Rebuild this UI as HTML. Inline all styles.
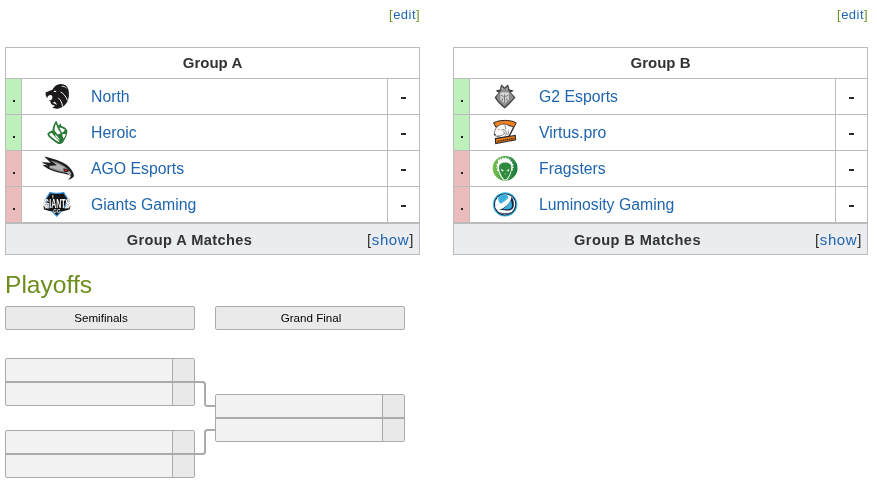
<!DOCTYPE html>
<html><head><meta charset="utf-8">
<style>
*{box-sizing:border-box;margin:0;padding:0}
html,body{width:877px;height:485px;overflow:hidden;background:#fff}
body{position:relative;font-family:"Liberation Sans",sans-serif;color:#222}
.abs{position:absolute}
.edit{position:absolute;top:7px;font-size:13px;letter-spacing:0.5px;line-height:16px;color:#1e64ae;white-space:nowrap}
.edit b{font-weight:normal;color:#6c8c1c}
.gt{position:absolute;top:47px;width:415px;height:208px;border:1px solid #bbb;background:#fff}
.gt .hd{position:absolute;left:0;top:0;width:413px;height:30px;text-align:center;font-weight:bold;font-size:15px;line-height:30px;color:#333}
.gt .hl{position:absolute;left:0;width:413px;height:1px;background:#bbb}
.gt .st{position:absolute;left:0;width:15px;height:35px}
.gt .up{background:#bef0bb}
.gt .dn{background:#ecbcbc}
.gt .vl{position:absolute;width:1px;background:#bbb}
.gt .dot{position:absolute;left:7px;width:2px;height:2px;background:#222}
.gt .nm{position:absolute;left:85px;font-size:15.8px;line-height:20px;color:#1e64ae;white-space:nowrap}
.gt .sc{position:absolute;left:395px;width:5px;height:2px;background:#2a2a2a}
.gt .ft{position:absolute;left:0;top:176px;width:413px;height:30px;background:#eaecf0}
.gt .ftt{position:absolute;left:0;top:1px;width:367px;text-align:center;font-weight:bold;font-size:14.6px;letter-spacing:0.4px;line-height:30px;color:#333}
.gt .show{position:absolute;right:5px;top:1px;font-size:15px;letter-spacing:0.6px;line-height:30px;color:#333}
.gt .show i{font-style:normal;color:#1e64ae}
.logo{position:absolute;width:26px;height:26px}
h2{position:absolute;left:5px;top:270px;font-weight:normal;font-size:24.6px;line-height:30px;color:#6c8c1c}
.rh{position:absolute;top:306px;width:190px;height:24px;border:1px solid #aaa;border-radius:2px;background:#eaeaea;text-align:center;font-size:11.6px;line-height:22px;color:#000;padding-left:2px}
.mt{position:absolute;width:190px;height:48px;border:1px solid #aaa;border-radius:2px;background:#f2f2f2;overflow:hidden}
.mt .s{position:absolute;right:0;top:0;width:22px;height:46px;background:#e9e9e9;border-left:1px solid #aaa}
.mt .m{position:absolute;left:0;top:22px;width:188px;height:2px;background:#aaa}
</style></head><body><div id="wrap" style="position:absolute;left:0;top:0;width:877px;height:485px;will-change:transform">

<div class="edit" style="left:389px"><b>[</b>edit<b>]</b></div>
<div class="edit" style="left:837px"><b>[</b>edit<b>]</b></div>

<!-- Group A -->
<div class="gt" style="left:5px">
  <div class="hd">Group A</div>
  <div class="hl" style="top:30px"></div>
  <div class="st up" style="top:31px"></div>
  <div class="st up" style="top:67px"></div>
  <div class="st dn" style="top:103px"></div>
  <div class="st dn" style="top:139px"></div>
  <div class="hl" style="top:66px"></div>
  <div class="hl" style="top:102px"></div>
  <div class="hl" style="top:138px"></div>
  <div class="hl" style="top:174px;height:2px"></div>
  <div class="vl" style="left:15px;top:31px;height:144px"></div>
  <div class="vl" style="left:381px;top:31px;height:144px"></div>
  <div class="dot" style="top:52px"></div>
  <div class="dot" style="top:88px"></div>
  <div class="dot" style="top:124px"></div>
  <div class="dot" style="top:160px"></div>
  <div class="nm" style="top:39px">North</div>
  <div class="nm" style="top:75px">Heroic</div>
  <div class="nm" style="top:111px">AGO Esports</div>
  <div class="nm" style="top:147px">Giants Gaming</div>
  <div class="sc" style="top:49px"></div>
  <div class="sc" style="top:85px"></div>
  <div class="sc" style="top:121px"></div>
  <div class="sc" style="top:157px"></div>
  <div class="ft"><div class="ftt">Group A Matches</div><div class="show">[<i>show</i>]</div></div>
</div>

<!-- Group B -->
<div class="gt" style="left:453px">
  <div class="hd">Group B</div>
  <div class="hl" style="top:30px"></div>
  <div class="st up" style="top:31px"></div>
  <div class="st up" style="top:67px"></div>
  <div class="st dn" style="top:103px"></div>
  <div class="st dn" style="top:139px"></div>
  <div class="hl" style="top:66px"></div>
  <div class="hl" style="top:102px"></div>
  <div class="hl" style="top:138px"></div>
  <div class="hl" style="top:174px;height:2px"></div>
  <div class="vl" style="left:15px;top:31px;height:144px"></div>
  <div class="vl" style="left:381px;top:31px;height:144px"></div>
  <div class="dot" style="top:52px"></div>
  <div class="dot" style="top:88px"></div>
  <div class="dot" style="top:124px"></div>
  <div class="dot" style="top:160px"></div>
  <div class="nm" style="top:39px">G2 Esports</div>
  <div class="nm" style="top:75px">Virtus.pro</div>
  <div class="nm" style="top:111px">Fragsters</div>
  <div class="nm" style="top:147px">Luminosity Gaming</div>
  <div class="sc" style="top:49px"></div>
  <div class="sc" style="top:85px"></div>
  <div class="sc" style="top:121px"></div>
  <div class="sc" style="top:157px"></div>
  <div class="ft"><div class="ftt">Group B Matches</div><div class="show">[<i>show</i>]</div></div>
</div>

<svg class="abs" style="left:0;top:0;will-change:transform" width="877" height="485" viewBox="0 0 877 485">
  <!-- North -->
  <path fill="#1c1a1b" d="M54.6,86.8 C56.2,85 58.4,84 60.8,84 C63.4,84 65.6,85 67,86.8 C68.6,88.8 69,91.8 68.9,95 C68.8,98.4 67.8,101.6 65.8,104 C63.8,106.4 60.8,108.2 57.8,108.7 C55.6,109 53.6,108.6 52.2,107.6 C53.4,107.2 54.4,106.4 54.8,105.4 C53.2,105.4 51.8,104.6 51,103.4 C50.6,102.6 50.4,101.8 50.2,101 C49.4,100.8 48.8,100.6 48.4,100.4 C49.2,100.2 50.2,100.2 51,100.2 C51.8,99.4 52.4,98.4 52.4,97.2 C52.4,95.8 51.6,95 50.4,95 C49.2,95.2 48.2,95.8 47.6,96.6 L47.4,98.2 C46.8,97.6 46.4,96.8 46,96 C45.6,94.8 45.6,93.6 45.6,92.4 C46.4,92 47.2,91.6 48,91.4 C49.6,90.6 51,90.2 52.4,89.8 C53.2,88.6 53.8,87.6 54.6,86.8 Z"/>
  <path fill="#fff" d="M53.4,101.8 C55.4,101.8 56.8,103.2 56.6,105 C56,104 55,103.4 53.6,103.4 Z"/>
  <ellipse cx="55" cy="91.4" rx="1.3" ry="0.7" fill="#fff"/>
  <path fill="none" stroke="#fff" stroke-width="1" d="M60.6,92 C63.4,93.4 65.8,96 67.4,100.2"/>
  <path fill="none" stroke="#fff" stroke-width="1" d="M58.2,97.8 C60.6,99.8 62,102.6 62.6,106.4"/>
  <path fill="none" stroke="#fff" stroke-width="0.8" d="M61.6,86.2 C63.4,86.2 65.2,86.8 66.6,88.2"/>

  <!-- Heroic -->
  <path fill="#2b7a37" d="M56.1,120.4 C57.2,122.4 58,124 58.4,125.4 C59.4,124.8 60.2,124 60.8,123.2 C61.2,124 61.2,125 61,125.8 C63.6,126.4 65.8,128 67.2,130.2 C67.6,131.4 67.4,132.6 67,133.4 C66.6,135.6 65.6,137.8 64.6,139.6 C64,141 63.2,142.6 61.8,143.6 C60.4,144.4 58.4,144.2 57,143.2 C54,141.6 51,139 49,137 C48,136 47.4,134.6 47.4,133.4 C48.6,132.2 50.4,131.4 52.4,130.6 C52.6,127.4 53.8,123.4 56.1,120.4 Z"/>
  <path fill="#fff" d="M55.9,123.4 C56.6,125.6 57.4,127.6 58.4,129.4 C59.6,131 60.4,132.2 60.6,133.4 C59.4,133.6 58.4,134 57.8,134.6 C56.6,133.4 55.4,132 54.4,130.6 C54.6,128 55,125.6 55.9,123.4 Z"/>
  <path fill="#fff" d="M59.4,127.4 C61.4,127.6 63.4,128.4 64.8,129.8 C64.2,131 63.4,132.2 62,132.8 C61,131.2 60,129.4 59.4,127.4 Z"/>
  <path fill="#fff" d="M49.2,134 C50.2,133.4 51.2,133 52,133 C53.8,135.6 56,138.2 58.8,140.6 C59,141.2 59.2,141.8 59.2,142.2 C57,141.2 54.4,139.6 52.4,137.8 C51,136.6 49.8,135.2 49.2,134 Z"/>
  <path fill="#fff" d="M62.2,134.2 C63.4,134 64.8,134 65.8,134.6 C65.2,136.2 64.4,137.6 63.4,138.8 C62.8,137.4 62.4,135.8 62.2,134.2 Z"/>
  <path fill="#fff" d="M55.4,134.2 C56.4,135.6 57.6,137 58.8,138.2 C59.2,139 59.6,139.6 59.8,140.2 C58.2,139.2 56.8,138 55.8,136.8 C55.4,136 55.2,135 55.4,134.2 Z"/>

  <!-- AGO -->
  <path fill="#1e1e1e" d="M44.2,156.6 C50,158 56,159.6 60.4,161.6 C65,163.4 68.8,166 71.2,169.4 C73.2,172 74.2,174.6 73.8,176.6 C72.6,178.2 70.6,179.4 68,179.8 C69.6,178.6 70.6,177.2 70.8,175.8 C68.4,174.8 66,174 63.6,173.6 C58.4,172.8 53,171.2 48.4,169 C46.4,168 44.2,166.4 42.4,164.8 C44.4,164.8 46.2,165 48,165.4 C46,164.4 43.8,163.4 41.8,162.4 C44.6,162.2 47.6,162.4 50.6,162.8 C48.4,160.8 46.2,158.6 44.2,156.6 Z"/>
  <path fill="#b4b4b4" d="M49.6,165.8 C53,165.6 56,165.4 56.8,165.2 C54.8,163.4 52.4,161.8 50.2,160.6 C55.4,161.8 60.6,163.8 64.6,166.4 C67.6,168.4 70,171.2 71.6,174.2 C69.6,174 67.4,173.2 64.8,172.6 C59.8,171.8 54,170.2 49.6,168 Z"/>
  <path fill="none" stroke="#6a6a6a" stroke-width="0.7" d="M52,161.4 C57,162.8 62,165 66.4,168 M51.4,168.2 C56,170 60.6,171.2 64.6,171.8"/>
  <path fill="#222" d="M63.4,168.6 C65.4,168 67.6,168.8 69.2,170.6 C68.6,172.2 66.8,172.6 64.6,172 C63.6,171.2 63.2,169.8 63.4,168.6 Z"/>
  <path fill="#e01818" d="M64.6,169.2 C65.8,169.2 66.8,170 67.4,171 C66.8,171.4 65.8,171.4 65,171 C64.6,170.6 64.4,169.8 64.6,169.2 Z"/>
  <path fill="#d8d8d8" d="M67,173.2 C68.6,173.4 70,174 71,174.8 L70.4,175.4 C69.2,174.8 68,174.2 67,173.2 Z"/>

  <!-- Giants -->
  <path fill="#141414" stroke="#3b8fd8" stroke-width="1.2" d="M50,192.6 C52.4,193.6 61.2,193.6 63.6,192.6 L67.8,199.2 L63.6,209.2 L56.8,216.2 L50,209.2 L45.8,199.2 Z"/>
  <path fill="#141414" d="M43.4,205.6 L47,208.6 L56.8,207.6 L66.6,208.6 L70.6,205.6 L69.6,209.6 L63,211.2 L56.8,210.6 L50.6,211.2 L44,209.6 Z"/>
  <path fill="#e6e6e6" d="M44.6,207 L46.6,208.2 L45.2,208.8 Z M69,207 L67,208.2 L68.4,208.8 Z"/>
  <text x="57" y="207.8" text-anchor="middle" font-family="Liberation Sans" font-weight="bold" font-size="12.6" fill="#fafafa" stroke="#111" stroke-width="0.6" paint-order="stroke" textLength="26.5" lengthAdjust="spacingAndGlyphs">GIANTS</text>
  <path fill="#fafafa" d="M52.4,195 L53.4,195 L53.2,198.4 L52.6,198.4 Z"/>
  <text x="56.9" y="212.6" text-anchor="middle" font-family="Liberation Sans" font-weight="bold" font-size="4.6" fill="#e0e0e0">GG</text>

  <!-- G2 -->
  <path fill="#3e3e3e" d="M501.2,84.4 C502.6,85.4 503.8,86.6 504.6,87.4 C505.4,86.6 506.6,85.4 508,84.4 C508.8,86 509.2,88 509.4,89.6 C510.8,89.9 512.2,90.1 513.6,90.4 C512.8,91.2 511.8,92 510.8,92.6 C512,94 513.8,95.6 515.4,97.4 C512.6,101.2 508.4,105 504.6,108.6 C500.8,105 496.6,101.2 494.6,97.4 C496.2,95.6 497.6,94 498.6,92.6 C497.6,92 496.6,91.2 495.8,90.4 C497.2,90.1 498.6,89.9 500,89.6 C500.2,88 500.6,86 501.2,84.4 Z"/>
  <path fill="#8c8c8c" d="M501.7,86.2 C502.7,87.2 503.7,88.2 504.6,89 C505.5,88.2 506.5,87.2 507.5,86.2 C507.9,87.8 508.1,89.2 508.3,90.6 C510,92.4 512,94.6 513.8,97.4 C511.2,100.6 508,103.8 504.6,106.8 C501.2,103.8 498,100.6 496.2,97.4 C497.8,94.6 499.4,92.4 500.9,90.6 C501.1,89.2 501.3,87.8 501.7,86.2 Z"/>
  <path fill="#b0b0b0" d="M502,87.4 L503.6,88.9 L501.4,89.8 Z M507.2,87.4 L505.6,88.9 L507.8,89.8 Z"/>
  <path fill="#d6d6d6" d="M500.4,92.8 C501.8,92.2 503.2,92 504.6,92.6 C506,92 507.4,92.2 508.8,92.8 L508.8,99.8 L504.6,103.4 L500.4,99.8 Z"/>
  <path fill="none" stroke="#505050" stroke-width="0.75" d="M501,95.2 L503.8,96.8 M508.2,95.2 L505.4,96.8 M504.6,94.4 L504.6,102.8 M502.3,98.2 L502.3,100.8 M506.9,98.2 L506.9,100.8"/>

  <!-- Virtus.pro -->
  <path fill="#f07f1f" stroke="#262626" stroke-width="1" d="M493.6,122.8 C497,121 501,120.4 504.9,120.4 C508.8,120.4 512.8,121 516.2,122.8 L513.9,127.4 C511,125.8 508,125 504.9,125 C501.8,125 498.8,125.8 496,127.4 Z"/>
  <path fill="#fbfbfb" stroke="#2a2a2a" stroke-width="0.6" d="M494.2,134.8 C494.2,132.2 495,129.4 496.6,127.2 C498.4,125.4 500.8,124.2 503.4,124 C505.6,123.9 507.6,124.8 509,125.8 C510.6,126.2 512,126.6 513.4,127.2 L509.8,135.2 C507.8,136.8 505,137.6 502.2,137.6 C499.6,137.4 497.2,136.6 495.4,135.8 Z"/>
  <path fill="none" stroke="#262626" stroke-width="1.1" d="M513.9,127.2 L509.2,136"/>
  <path fill="none" stroke="#3a3a3a" stroke-width="0.6" d="M503.6,124.4 C505.4,125.8 506,127.6 505.6,129.4 M501.4,129.8 C503.6,129.2 505.6,130.2 506.2,132 C506.6,133.6 506,135.2 504.8,136 M503,131.6 C504.2,131.8 504.8,132.8 504.4,134.2 M497,136 C500,136.2 502.6,135.4 504.2,133.6 M508.2,130.4 C508.6,132 508.4,133.6 507.6,135"/>
  <circle cx="499" cy="129.6" r="0.7" fill="#e0401e"/>
  <path fill="#2a2a2a" d="M494.2,133.6 L495.8,134.2 L495.4,135.8 L494.2,135.2 Z"/>
  <path fill="#f07f1f" stroke="#262626" stroke-width="1.1" d="M495.4,138.6 L515.2,135.4 L515.6,139.9 L495.7,143.5 Z"/>
  <path fill="none" stroke="#4a2509" stroke-width="1.2" stroke-dasharray="1.4 0.5" d="M497.4,141.3 L513.6,138.4"/>

  <!-- Fragsters -->
  <defs>
    <linearGradient id="fg" x1="0" y1="0" x2="1" y2="0">
      <stop offset="0" stop-color="#74c14b"/>
      <stop offset="1" stop-color="#177a3c"/>
    </linearGradient>
    <linearGradient id="fg2" x1="0" y1="0" x2="1" y2="0">
      <stop offset="0" stop-color="#5aaf47"/>
      <stop offset="1" stop-color="#2a8c40"/>
    </linearGradient>
    <clipPath id="lc"><circle cx="505.1" cy="204.4" r="10.2"/></clipPath>
  </defs>
  <circle cx="505.1" cy="168.3" r="12.4" fill="url(#fg)"/>
  <path fill="#fff" d="M498.2,161.2 L497.4,159.2 L499.6,160 L500,157.6 L501.6,159.4 L503,157 L504,158.8 L505.8,156.8 L506.6,158.8 L508.6,157.6 L508.6,159.6 L510.8,159.4 L510.4,161.2 L512.6,161.8 L511.8,163.2 L514,164.4 L512.6,165.4 L514,167.4 L512.4,168 L513,170.2 L511.6,170.6 C511,173.6 509.6,176.8 508,179 C507.2,180 506,180.4 505.2,180.4 C504.4,180.4 503.2,180 502.4,179 C500.6,176.8 499,173.8 498.4,171.2 L496.8,170.4 L497.6,168.8 L496,167.4 L497.4,166.4 L496.2,164.2 L497.8,163.8 Z"/>
  <path fill="#3d9a45" d="M510.6,160.6 L511.4,161.6 L510.6,162 Z M512.2,165.4 L513.2,166.4 L512.4,166.8 Z M499.4,159.2 L500.2,160.2 L499.2,160.4 Z M496.8,166.8 L497.8,167.4 L497,168 Z"/>
  <path fill="#2e8a3e" d="M499.4,165 C501,163.2 503,162.6 505.2,162.6 C507.4,162.6 509.4,163.2 511,165 C511.6,167.6 511.2,170.4 510.2,172.8 C509.2,175.4 507.8,177.6 506.2,179.6 L504.2,179.6 C502.6,177.6 501.2,175.4 500.2,172.8 C499.2,170.4 498.8,167.6 499.4,165 Z"/>
  <path fill="#e8f5e4" d="M500.8,168.8 L504,170.6 L502,171.8 Z M509.6,168.8 L506.4,170.6 L508.4,171.8 Z"/>
  <path fill="#cfeac8" d="M504.4,173.6 L506,173.6 L505.2,175 Z"/>

  <!-- Luminosity -->
  <circle cx="505.1" cy="204.4" r="12.2" fill="#3ab4e2"/>
  <circle cx="505.1" cy="204.4" r="11" fill="#13243e"/>
  <circle cx="505.1" cy="204.4" r="10.1" fill="#fff"/>
  <g clip-path="url(#lc)">
    <circle cx="503.4" cy="199" r="5.2" fill="#3ab0dc"/>
    <path fill="#fff" d="M494,206.6 C499,205.4 505.6,201.6 510.2,195.8 L512.4,197.6 C508,203 501.6,207.8 495,209.6 Z"/>
    <path fill="none" stroke="#8fd0ea" stroke-width="0.6" stroke-dasharray="0.8 0.5" d="M495,205.6 C500,204.2 505.6,200.6 509.6,195.8"/>
    <path fill="#13243e" d="M511.4,196.6 C513.6,199.6 514.4,203.8 513.4,207.6 C512,210 509.6,210.6 506.6,210.4 C504,210.2 501.4,210 499,209.8 C503.8,208.4 508.4,204.8 510.6,200.4 C511.2,199 511.4,197.8 511.4,196.6 Z"/>
    <path fill="#3ab0dc" d="M510.8,200 C512,202.6 512.2,205.4 511.6,207.4 C510.6,208.8 508.8,209.2 506.8,209.2 C505.4,209.2 503.8,209.2 502.4,209.2 C505.6,207.4 508.6,204.4 510.2,201.4 Z"/>
    <path fill="none" stroke="#13243e" stroke-width="0.8" d="M497.6,212.4 C502,214 508.2,214 512.6,212.4"/>
  </g>
</svg>

<h2>Playoffs</h2>
<div class="rh" style="left:5px">Semifinals</div>
<div class="rh" style="left:215px">Grand Final</div>

<div class="mt" style="left:5px;top:358px"><div class="s"></div><div class="m"></div></div>
<div class="mt" style="left:5px;top:430px"><div class="s"></div><div class="m"></div></div>
<div class="mt" style="left:215px;top:394px"><div class="s"></div><div class="m"></div></div>

<svg class="abs" style="left:0;top:0" width="877" height="485">
  <path d="M195 382 H202.5 Q205 382 205 384.5 V403.5 Q205 406 207.5 406 H215" fill="none" stroke="#aaa" stroke-width="2"/>
  <path d="M195 454 H202.5 Q205 454 205 451.5 V432.5 Q205 430 207.5 430 H215" fill="none" stroke="#aaa" stroke-width="2"/>
</svg>

</div></body></html>
